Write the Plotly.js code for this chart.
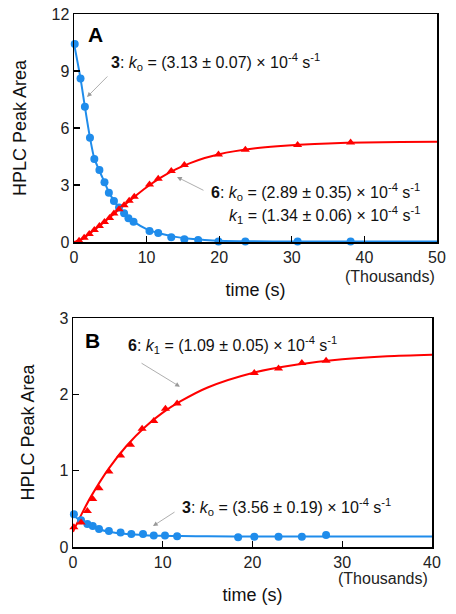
<!DOCTYPE html>
<html>
<head>
<meta charset="utf-8">
<script src="https://cdn.plot.ly/plotly-3.0.1.min.js"></script>
<style>html,body{margin:0;padding:0;background:#fff;}#chart{width:456px;height:614px;}</style>
</head>
<body>
<div id="chart"></div>
<script>
// ---- Panel A data (time in thousands of s) ----
var a3_t = [0.1,0.9,1.5,2.2,2.8,3.5,4.2,4.8,5.5,6.2,6.9,7.5,8.2,10.4,11.6,13.4,15.2,17.1,19.9,23.6,30.8,38.1];
var a3_y = [10.42,8.6,7.12,5.49,4.37,3.79,3.14,2.59,2.16,1.81,1.51,1.25,1.07,0.58,0.47,0.25,0.14,0.11,0.03,0.02,0.03,0.03];
var a6_t = [0.7,1.4,2.1,2.8,3.5,4.2,4.9,5.5,6.2,6.9,7.6,8.3,10.4,11.6,13.4,15.2,19.9,23.6,30.8,38.1];
var a6_y = [0.07,0.23,0.42,0.63,0.84,1.05,1.26,1.5,1.72,1.93,2.17,2.38,3.02,3.33,3.74,4.05,4.6,4.85,5.1,5.24];
// fitted curves
var a3fit_t = [0,0.9,1.5,2.2,2.8,3.5,4.2,4.8,5.5,6.2,6.9,7.5,8.2,10,12,14,16,18,20,24,30,40,50];
var a3fit_y = [10.45,8.6,7.12,5.5,4.4,3.75,3.15,2.62,2.18,1.82,1.52,1.28,1.07,0.68,0.43,0.27,0.17,0.11,0.07,0.04,0.03,0.03,0.03];
var a6fit_t = [0,1,2,4,6,8,10,12,14,16,18,20,22,25,28,31,35,40,45,50];
var a6fit_y = [0,0.12,0.4,1.0,1.65,2.28,2.88,3.4,3.82,4.15,4.42,4.62,4.77,4.93,5.04,5.12,5.19,5.24,5.26,5.27];

// ---- Panel B data ----
var b3_t = [0.1,0.9,1.6,2.2,2.9,4.0,5.3,6.5,7.8,9.0,10.25,11.6,18.4,20.2,22.9,25.5,28.2];
var b3_y = [0.43,0.35,0.3,0.275,0.235,0.21,0.19,0.17,0.17,0.15,0.15,0.14,0.127,0.135,0.135,0.135,0.157];
var b6_t = [0.1,0.9,1.6,2.2,2.9,4.0,5.3,6.4,7.7,9.0,10.3,11.6,20.2,22.9,25.5,28.2];
var b6_y = [0.26,0.32,0.47,0.63,0.77,0.99,1.2,1.34,1.55,1.65,1.81,1.88,2.28,2.34,2.41,2.44];
var b3fit_t = [0,1,2,3,4,6,8,10,12,15,20,30,40];
var b3fit_y = [0.42,0.33,0.27,0.23,0.2,0.17,0.155,0.147,0.143,0.14,0.138,0.138,0.138];
var b6fit_t = [0,1,2,4,6,8,10,12,15,20,25,30,35,40];
var b6fit_y = [0.2,0.44,0.66,1.03,1.33,1.57,1.76,1.91,2.09,2.28,2.39,2.46,2.5,2.52];

var BLUE = '#1f8ceb', RED = '#ff0000';
var FONT = "'Liberation Sans', Arial, sans-serif";

function pts(x, y, xa, ya, color, sym) {
  return {x:x, y:y, xaxis:xa, yaxis:ya, type:'scatter', mode:'markers', cliponaxis:false,
          marker:{color:color, size:8, symbol:sym}, showlegend:false, hoverinfo:'skip'};
}
function fit(x, y, xa, ya, color) {
  return {x:x, y:y, xaxis:xa, yaxis:ya, type:'scatter', mode:'lines', cliponaxis:false,
          line:{color:color, width:2, shape:'spline', smoothing:0.8}, showlegend:false, hoverinfo:'skip'};
}

var data = [
  fit(a3fit_t, a3fit_y, 'x', 'y', BLUE),
  fit(a6fit_t, a6fit_y, 'x', 'y', RED),
  pts(a3_t, a3_y, 'x', 'y', BLUE, 'circle'),
  pts(a6_t, a6_y, 'x', 'y', RED, 'triangle-up'),
  fit(b3fit_t, b3fit_y, 'x2', 'y2', BLUE),
  fit(b6fit_t, b6fit_y, 'x2', 'y2', RED),
  pts(b3_t, b3_y, 'x2', 'y2', BLUE, 'circle'),
  pts(b6_t, b6_y, 'x2', 'y2', RED, 'triangle-up')
];

function xax(domain, range, anchor) {
  return {domain:domain, range:range, anchor:anchor, dtick:10, tick0:0, showgrid:false, zeroline:false,
          showline:true, mirror:true, linecolor:'#000', linewidth:1.5,
          ticks:'inside', ticklen:6, tickwidth:1.2, tickcolor:'#000',
          tickfont:{family:FONT, size:16, color:'#222'},
          title:{text:'time (s)', font:{family:FONT, size:18, color:'#111'}, standoff:18}};
}
function yax(domain, range, dtick, anchor) {
  return {domain:domain, range:range, anchor:anchor, dtick:dtick, tick0:0, showgrid:false, zeroline:false,
          showline:true, mirror:true, linecolor:'#000', linewidth:1.5,
          ticks:'inside', ticklen:6, tickwidth:1.2, tickcolor:'#000',
          tickfont:{family:FONT, size:16, color:'#222'},
          title:{text:'HPLC Peak Area', font:{family:FONT, size:18, color:'#111'}, standoff:20}};
}

var AFONT = {family:FONT, size:16, color:'#111'};
function label(xr, yr, x, y, text) {
  return {xref:xr, yref:yr, x:x, y:y, text:text, showarrow:false, xanchor:'left', yanchor:'middle', font:AFONT};
}
function arrow(xr, yr, x, y, ax, ay) {
  return {xref:xr, yref:yr, axref:xr, ayref:yr, x:x, y:y, ax:ax, ay:ay, text:'', showarrow:true,
          arrowhead:2, arrowsize:1.2, arrowwidth:0.8, arrowcolor:'#999'};
}

var layout = {
  width:456, height:614, margin:{l:0, r:0, t:0, b:0}, paper_bgcolor:'#fff', plot_bgcolor:'#fff',
  font:{family:FONT},
  xaxis: xax([74/456, 437/456], [0,50], 'y'),
  yaxis: yax([1-242/614, 1-14/614], [0,12], 3, 'x'),
  xaxis2: xax([73/456, 432/456], [0,40], 'y2'),
  yaxis2: yax([1-547/614, 1-318/614], [0,3], 1, 'x2'),
  annotations: [
    {xref:'x', yref:'y', x:2.9, y:10.9, text:'<b>A</b>', showarrow:false, font:{family:FONT, size:21, color:'#000'}},
    label('x','y', 4.8, 9.47, '<b>3</b>: <i>k</i><sub>o</sub> = (3.13 ± 0.07) × 10<sup>-4</sup> s<sup>-1</sup>'),
    arrow('x','y', 1.79, 7.63, 4.8, 8.79),
    label('x','y', 18.6, 2.63, '<b>6</b>: <i>k</i><sub>o</sub> = (2.89 ± 0.35) × 10<sup>-4</sup> s<sup>-1</sup>'),
    label('x','y', 21.1, 1.42, '<i>k</i><sub>1</sub> = (1.34 ± 0.06) × 10<sup>-4</sup> s<sup>-1</sup>'),
    arrow('x','y', 14.19, 3.42, 18.04, 2.68),
    {xref:'paper', yref:'paper', x:437/456, y:1-276/614, text:'(Thousands)', showarrow:false, xanchor:'right', yanchor:'middle', font:{family:FONT, size:16, color:'#222'}},

    {xref:'x2', yref:'y2', x:2.12, y:2.71, text:'<b>B</b>', showarrow:false, font:{family:FONT, size:21, color:'#000'}},
    label('x2','y2', 5.9, 2.65, '<b>6</b>: <i>k</i><sub>1</sub> = (1.09 ± 0.05) × 10<sup>-4</sup> s<sup>-1</sup>'),
    arrow('x2','y2', 11.92, 2.10, 7.47, 2.42),
    label('x2','y2', 11.9, 0.524, '<b>3</b>: <i>k</i><sub>o</sub> = (3.56 ± 0.19) × 10<sup>-4</sup> s<sup>-1</sup>'),
    arrow('x2','y2', 8.91, 0.275, 11.48, 0.47),
    {xref:'paper', yref:'paper', x:430/456, y:1-578/614, text:'(Thousands)', showarrow:false, xanchor:'right', yanchor:'middle', font:{family:FONT, size:16, color:'#222'}}
  ]
};

Plotly.newPlot('chart', data, layout, {displayModeBar:false, staticPlot:true});
</script>
</body>
</html>
